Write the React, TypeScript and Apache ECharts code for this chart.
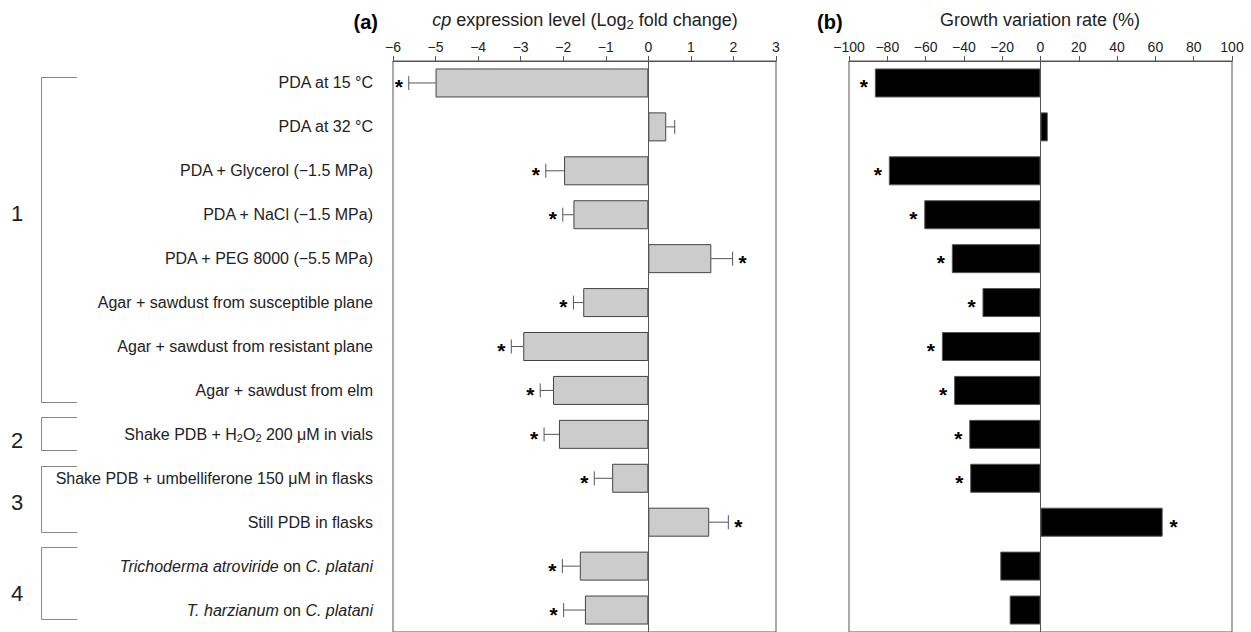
import React, { useEffect, useRef } from "react";
import * as echarts from "echarts";

const categories = [
  "PDA at 15 °C",
  "PDA at 32 °C",
  "PDA + Glycerol (−1.5 MPa)",
  "PDA + NaCl (−1.5 MPa)",
  "PDA + PEG 8000 (−5.5 MPa)",
  "Agar + sawdust from susceptible plane",
  "Agar + sawdust from resistant plane",
  "Agar + sawdust from elm",
  "Shake PDB + H2O2 200 μM in vials",
  "Shake PDB + umbelliferone 150 μM in flasks",
  "Still PDB in flasks",
  "Trichoderma atroviride on C. platani",
  "T. harzianum on C. platani",
];

const expression = [-5.0, 0.42, -1.98, -1.76, 1.48, -1.53, -2.94, -2.24, -2.1, -0.85, 1.43, -1.61, -1.49];
const expressionErr = [0.63, 0.2, 0.43, 0.25, 0.5, 0.23, 0.28, 0.3, 0.35, 0.42, 0.45, 0.41, 0.5];
const expressionSig = [1, 0, 1, 1, 1, 1, 1, 1, 1, 1, 1, 1, 1];

const growth = [-86.5, 3.8, -79.2, -60.7, -46.3, -30.3, -51.5, -45.1, -37.2, -36.7, 63.8, -21.0, -16.1];
const growthSig = [1, 0, 1, 1, 1, 1, 1, 1, 1, 1, 1, 0, 0];

const groupLabels = ["1", "2", "3", "4"];

const FONT = "'Liberation Sans', Arial, Helvetica, sans-serif";
const TXT = "#222";
const AX = "#555";

const fmtNum = (v: number) => (v < 0 ? "\u2212" + Math.abs(v) : String(v));

const richLabel = (s: string) =>
  s
    .replace("H2O2", "H{sub|2}O{sub|2}")
    .replace("Trichoderma atroviride", "{i|Trichoderma atroviride}")
    .replace("C. platani", "{i|C. platani}")
    .replace("T. harzianum", "{i|T. harzianum}");

export default function App() {
  const ref = useRef<HTMLDivElement>(null);

  useEffect(() => {
    if (!ref.current) return;
    const chart = echarts.init(ref.current, undefined, { renderer: "svg" });

    const gridA = { left: 393, top: 61, width: 383, height: 572 };
    const gridB = { left: 849, top: 61, width: 383, height: 572 };

    const xAxisBase = (min: number, max: number, interval: number, gi: number) => ({
      type: "value",
      gridIndex: gi,
      position: "top",
      min,
      max,
      interval,
      axisLine: { show: true, onZero: false, lineStyle: { color: AX, width: 1 } },
      axisTick: { show: true, inside: false, length: 5, lineStyle: { color: AX } },
      axisLabel: { margin: 7, fontSize: 14, color: TXT, fontFamily: FONT, formatter: fmtNum },
      splitLine: { show: false },
    });

    const yAxisBase = (gi: number, labels: boolean) => ({
      type: "category",
      gridIndex: gi,
      inverse: true,
      data: categories,
      axisLine: { show: false },
      axisTick: { show: false },
      axisLabel: labels
        ? {
            show: true,
            margin: 20,
            fontSize: 16,
            color: TXT,
            fontFamily: FONT,
            lineHeight: 18,
            formatter: (v: string) => richLabel(v),
            rich: {
              i: { fontStyle: "italic", fontSize: 16, color: TXT, fontFamily: FONT, lineHeight: 18 },
              sub: { fontSize: 11, color: TXT, fontFamily: FONT, verticalAlign: "bottom", lineHeight: 11 },
            },
          }
        : { show: false },
      splitLine: { show: false },
    });

    const zeroLine = {
      silent: true,
      symbol: ["none", "none"],
      label: { show: false },
      lineStyle: { color: AX, width: 1, type: "solid" },
      data: [{ xAxis: 0 }],
    };

    const star = (x: number, y: number) => ({
      type: "text",
      style: {
        text: "*",
        x,
        y: y + 4,
        fill: "#000",
        font: `bold 21px ${FONT}`,
        align: "center",
        verticalAlign: "middle",
      },
    });

    const bracket = (y0: number, y1: number) => ({
      type: "polyline",
      silent: true,
      shape: { points: [[77, y0 + 0.5], [41.5, y0 + 0.5], [41.5, y1 + 0.5], [77, y1 + 0.5]] },
      style: { stroke: "#888", fill: "none", lineWidth: 1 },
    });

    const groupText = (t: string, y: number) => ({
      type: "text",
      x: 17,
      y,
      style: { text: t, fontSize: 22, fontFamily: FONT, fill: TXT, align: "center", verticalAlign: "middle" },
    });

    const option = {
      animation: false,
      textStyle: { fontFamily: FONT },
      grid: [
        { ...gridA, show: true, borderColor: AX, borderWidth: 1, backgroundColor: "transparent" },
        { ...gridB, show: true, borderColor: AX, borderWidth: 1, backgroundColor: "transparent" },
      ],
      xAxis: [xAxisBase(-6, 3, 1, 0), xAxisBase(-100, 100, 20, 1)],
      yAxis: [yAxisBase(0, true), yAxisBase(1, false)],
      graphic: [
        {
          type: "text",
          x: 378,
          y: 22,
          style: { text: "(a)", fontSize: 20, fontWeight: "bold", fontFamily: FONT, fill: "#000", align: "right", verticalAlign: "middle" },
        },
        {
          type: "text",
          x: 817,
          y: 22,
          style: { text: "(b)", fontSize: 20, fontWeight: "bold", fontFamily: FONT, fill: "#000", align: "left", verticalAlign: "middle" },
        },
        {
          type: "text",
          x: 585,
          y: 20,
          style: {
            text: "{i|cp} expression level (Log{sub|2} fold change)",
            fontSize: 18,
            fontFamily: FONT,
            fill: TXT,
            align: "center",
            verticalAlign: "middle",
            lineHeight: 22,
            rich: {
              i: { fontStyle: "italic", fontSize: 18, fontFamily: FONT, fill: TXT, lineHeight: 22 },
              sub: { fontSize: 13, fontFamily: FONT, fill: TXT, verticalAlign: "bottom", lineHeight: 13 },
            },
          },
        },
        {
          type: "text",
          x: 1040,
          y: 20,
          style: { text: "Growth variation rate (%)", fontSize: 18, fontFamily: FONT, fill: TXT, align: "center", verticalAlign: "middle" },
        },
        bracket(77, 402),
        bracket(417, 450),
        bracket(466, 532),
        bracket(547, 619),
        groupText(groupLabels[0], 213),
        groupText(groupLabels[1], 440),
        groupText(groupLabels[2], 502),
        groupText(groupLabels[3], 593),
      ],
      series: [
        {
          type: "bar",
          xAxisIndex: 0,
          yAxisIndex: 0,
          data: expression,
          barWidth: 29,
          itemStyle: { color: "#cccccc", borderColor: "#444", borderWidth: 1 },
          markLine: zeroLine,
        },
        {
          type: "custom",
          xAxisIndex: 0,
          yAxisIndex: 0,
          clip: false,
          data: expression.map((v, i) => [v, i, expressionErr[i], expressionSig[i]]),
          encode: { x: 0, y: 1 },
          renderItem: (params: any, api: any) => {
            const v = api.value(0);
            const idx = api.value(1);
            const err = api.value(2);
            const sig = api.value(3);
            const s = v >= 0 ? 1 : -1;
            const p0 = api.coord([v, idx]);
            const p1 = api.coord([v + s * err, idx]);
            const children: any[] = [
              { type: "line", shape: { x1: p0[0], y1: p0[1], x2: p1[0], y2: p1[1] }, style: { stroke: AX, lineWidth: 1 } },
              { type: "line", shape: { x1: p1[0], y1: p1[1] - 7, x2: p1[0], y2: p1[1] + 7 }, style: { stroke: AX, lineWidth: 1 } },
            ];
            if (sig) children.push(star(p1[0] + s * 10, p1[1]));
            return { type: "group", children };
          },
        },
        {
          type: "bar",
          xAxisIndex: 1,
          yAxisIndex: 1,
          data: growth,
          barWidth: 29,
          itemStyle: { color: "#000", borderColor: "#555", borderWidth: 1 },
          markLine: zeroLine,
        },
        {
          type: "custom",
          xAxisIndex: 1,
          yAxisIndex: 1,
          clip: false,
          data: growth.map((v, i) => [v, i, growthSig[i]]),
          encode: { x: 0, y: 1 },
          renderItem: (params: any, api: any) => {
            const v = api.value(0);
            const idx = api.value(1);
            const sig = api.value(2);
            if (!sig) return { type: "group", children: [] };
            const s = v >= 0 ? 1 : -1;
            const p = api.coord([v, idx]);
            return { type: "group", children: [star(p[0] + s * 11, p[1])] };
          },
        },
      ],
    };

    chart.setOption(option as any);
    return () => chart.dispose();
  }, []);

  return (
    <div
      ref={ref}
      style={{ position: "absolute", left: 0, top: 0, width: 1251, height: 632, background: "#fff" }}
    />
  );
}
